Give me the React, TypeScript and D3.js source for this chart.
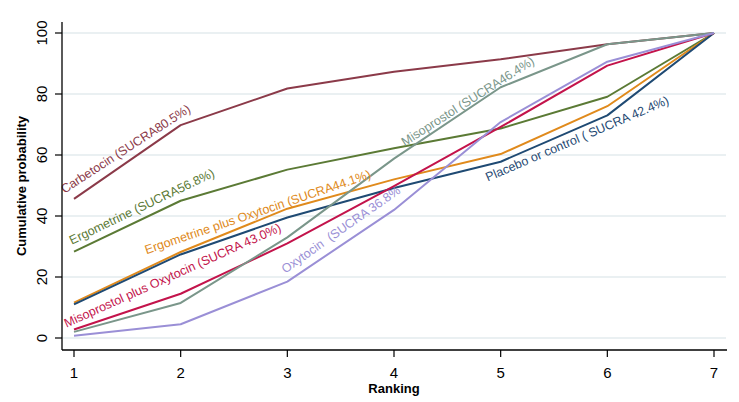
import React from "react";
import * as d3 from "d3";

const ranks = [1, 2, 3, 4, 5, 6, 7];
const carbetocin = [45.6, 69.8, 81.8, 87.3, 91.4, 96.3, 100];
const ergometrine = [28.3, 45.0, 55.2, 62.2, 68.7, 79.1, 100];
const ergoPlusOxy = [11.6, 28.2, 42.4, 52.0, 60.3, 76.0, 100];
const placebo = [11.0, 27.4, 39.5, 49.2, 57.8, 73.0, 100];
const misoPlusOxy = [2.8, 14.5, 31.0, 49.8, 69.2, 89.3, 100];
const misoprostol = [2.0, 11.5, 33.0, 58.8, 82.2, 96.3, 100];
const oxytocin = [0.7, 4.5, 18.5, 42.0, 70.8, 90.6, 100];
const yTicks = [0, 20, 40, 60, 80, 100];

const series = [
  { name: "Carbetocin", values: carbetocin, color: "#8b3a49", label: "Carbetocin (SUCRA80.5%)", lx: 0.91, ly: 47.3, angle: -33 },
  { name: "Ergometrine", values: ergometrine, color: "#5b7a35", label: "Ergometrine (SUCRA56.8%)", lx: 0.98, ly: 30.6, angle: -25.5 },
  { name: "Ergometrine plus Oxytocin", values: ergoPlusOxy, color: "#e08a1c", label: "Ergometrine plus Oxytocin (SUCRA44.1%)", lx: 1.68, ly: 27.5, angle: -18.7 },
  { name: "Placebo or control", values: placebo, color: "#1f4a73", label: "Placebo or control ( SUCRA 42.4%)", lx: 4.88, ly: 51.3, angle: -23.2 },
  { name: "Misoprostol plus Oxytocin", values: misoPlusOxy, color: "#c3134b", label: "Misoprostol plus Oxytocin (SUCRA 43.0%)", lx: 0.93, ly: 3.4, angle: -24.2 },
  { name: "Misoprostol", values: misoprostol, color: "#7a968a", label: "Misoprostol (SUCRA46.4%)", lx: 4.1, ly: 62.8, angle: -32.5 },
  { name: "Oxytocin", values: oxytocin, color: "#9a8fd6", label: "Oxytocin  (SUCRA 36.8%", lx: 2.98, ly: 21.1, angle: -35 },
];

export default function App() {
  const W = 739, H = 402;
  const x = d3.scaleLinear().domain([1, 7]).range([74, 714]);
  const y = d3.scaleLinear().domain([0, 100]).range([338, 33]);
  const left = 62, right = 727, top = 22, bottom = 350;
  const line = d3.line<number>().x((_, i) => x(ranks[i])).y((d) => y(d));
  const font = "'Liberation Sans', Arial, sans-serif";
  return (
    <svg width={W} height={H} style={{ position: "absolute", left: 0, top: 0, background: "#fff" }} fontFamily={font}>
      <rect x={0} y={0} width={W} height={H} fill="#fff" />
      {yTicks.map((t) => (
        <line key={"g" + t} x1={left} x2={right - 1} y1={y(t)} y2={y(t)} stroke="#eaf0f2" strokeWidth={2} />
      ))}
      {series.map((s) => (
        <path key={s.name} d={line(s.values) || ""} fill="none" stroke={s.color} strokeWidth={2} strokeLinejoin="round" />
      ))}
      {series.map((s) => (
        <text key={"l" + s.name} x={x(s.lx)} y={y(s.ly)} fontSize={12.5} fill={s.color}
          transform={`rotate(${s.angle} ${x(s.lx)} ${y(s.ly)})`} style={{ whiteSpace: "pre" }}>
          {s.label}
        </text>
      ))}
      <line x1={left} x2={left} y1={top} y2={bottom} stroke="#000" strokeWidth={1.3} />
      <line x1={left} x2={right} y1={bottom} y2={bottom} stroke="#000" strokeWidth={1.3} />
      {yTicks.map((t) => (
        <g key={"yt" + t}>
          <line x1={left - 7} x2={left} y1={y(t)} y2={y(t)} stroke="#000" strokeWidth={1.2} />
          <text x={41} y={y(t)} fontSize={15} textAnchor="middle" dominantBaseline="central"
            transform={`rotate(-90 41 ${y(t)})`} fill="#000">{t}</text>
        </g>
      ))}
      {ranks.map((r) => (
        <g key={"xt" + r}>
          <line x1={x(r)} x2={x(r)} y1={bottom} y2={bottom + 7} stroke="#000" strokeWidth={1.2} />
          <text x={x(r)} y={378} fontSize={15} textAnchor="middle" fill="#000">{r}</text>
        </g>
      ))}
      <text x={394} y={393} fontSize={13} fontWeight="bold" textAnchor="middle" fill="#000">Ranking</text>
      <text x={0} y={0} fontSize={13} fontWeight="bold" textAnchor="middle" fill="#000"
        transform={`translate(26 ${(top + bottom) / 2}) rotate(-90)`}>Cumulative probability</text>
    </svg>
  );
}
